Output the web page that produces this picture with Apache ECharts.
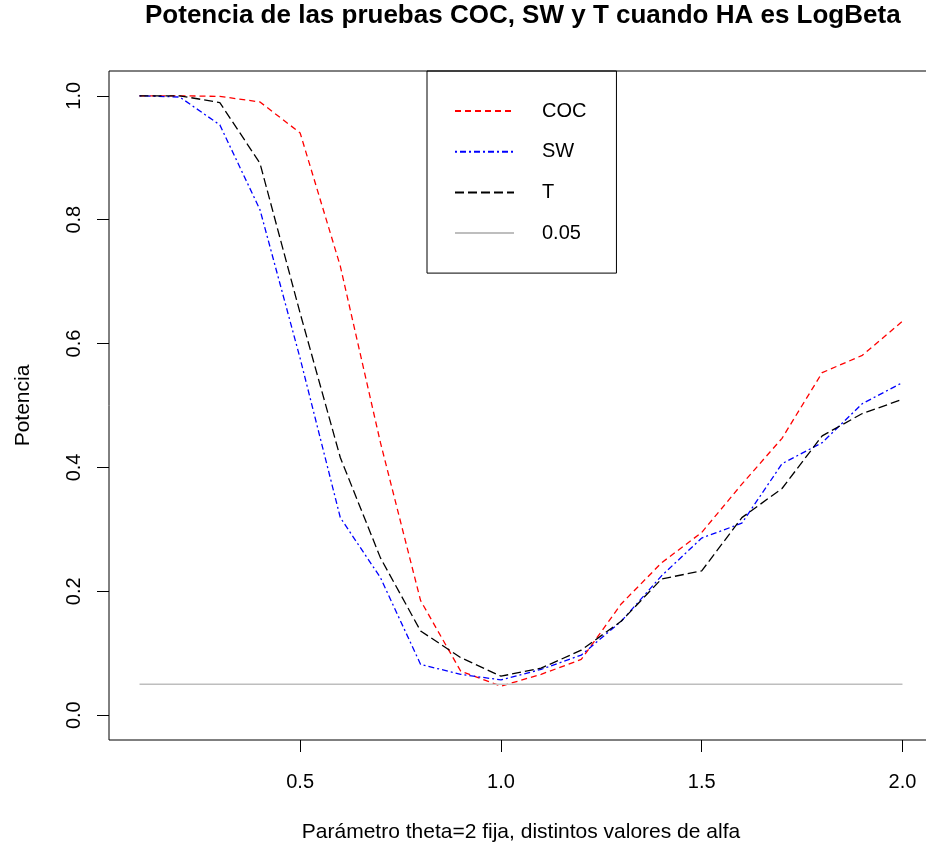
<!DOCTYPE html>
<html>
<head>
<meta charset="utf-8">
<script src="https://cdn.jsdelivr.net/npm/echarts@6/dist/echarts.min.js"></script>
<style>
html,body{margin:0;padding:0;background:#fff;}
#chart{width:926px;height:846px;}
</style>
</head>
<body>
<div id="chart"></div>
<script>
// ---- data ----
const alphaValues = [0.1,0.2,0.3,0.4,0.5,0.6,0.7,0.8,0.9,1.0,1.1,1.2,1.3,1.4,1.5,1.6,1.7,1.8,1.9,2.0];
const cocPower = [1.000,1.000,0.999,0.990,0.940,0.725,0.440,0.185,0.071,0.047,0.066,0.090,0.180,0.246,0.295,0.373,0.447,0.553,0.581,0.636];
const swPower  = [1.000,0.998,0.953,0.816,0.576,0.319,0.222,0.082,0.066,0.057,0.074,0.097,0.152,0.225,0.286,0.310,0.406,0.440,0.503,0.537];
const tPower   = [1.000,1.000,0.989,0.891,0.649,0.416,0.254,0.136,0.093,0.063,0.076,0.105,0.152,0.220,0.233,0.319,0.366,0.451,0.487,0.510];
const refLevel = 0.05;
const seriesNames = ['COC','SW','T','0.05'];
const xTickValues = [0.5,1.0,1.5,2.0];
const yTickValues = [0.0,0.2,0.4,0.6,0.8,1.0];

const pairs = ys => alphaValues.map((x,i)=>[x, ys[i]]);
const FONT = 'Liberation Sans, Arial, sans-serif';

const chart = echarts.init(document.getElementById('chart'), null, {renderer:'canvas'});
chart.setOption({
  animation:false,
  backgroundColor:'#ffffff',
  title:{
    text:'Potencia de las pruebas COC, SW y T cuando HA es LogBeta',
    left:145, top:3, padding:0,
    textStyle:{fontFamily:FONT,fontWeight:'bold',fontSize:26,color:'#000'}
  },
  legend:{
    orient:'vertical', left:427, top:71,
    padding:[30,30,30,27],
    itemWidth:59, itemHeight:20, itemGap:20.7,
    borderColor:'#000', borderWidth:1,
    selectedMode:false,
    itemStyle:{opacity:0},
    data:seriesNames,
    textStyle:{fontFamily:FONT,fontSize:20,color:'#000',padding:[0,0,0,23]}
  },
  grid:{left:109, top:71, width:824, height:669, outerBoundsMode:'none', containLabel:false,
    show:true, borderColor:'#000', borderWidth:1, backgroundColor:'transparent'},
  xAxis:{
    type:'value', min:0.024, max:2.076,
    name:'Parámetro theta=2 fija, distintos valores de alfa',
    nameLocation:'middle', nameGap:82,
    nameTextStyle:{fontFamily:FONT,fontSize:21,color:'#000'},
    axisLine:{show:false,onZero:false},
    splitLine:{show:false},
    axisTick:{show:true,length:12,customValues:xTickValues,lineStyle:{color:'#000',width:1}},
    axisLabel:{customValues:xTickValues,margin:32,fontFamily:FONT,fontSize:20,color:'#000',
      formatter:v=>v.toFixed(1)}
  },
  yAxis:{
    type:'value', min:-0.04, max:1.04,
    name:'Potencia',
    nameLocation:'middle', nameGap:75,
    nameTextStyle:{fontFamily:FONT,fontSize:21,color:'#000'},
    axisLine:{show:false,onZero:false},
    splitLine:{show:false},
    axisTick:{show:true,length:12,customValues:yTickValues,lineStyle:{color:'#000',width:1}},
    axisLabel:{customValues:yTickValues,rotate:90,margin:25,fontFamily:FONT,fontSize:20,color:'#000',
      formatter:v=>v.toFixed(1)}
  },
  series:[
    {name:'COC',type:'line',data:pairs(cocPower),symbol:'none',
      lineStyle:{color:'#ff0000',width:1.3,type:[6,4]},itemStyle:{color:'#ff0000'}},
    {name:'SW',type:'line',data:pairs(swPower),symbol:'none',
      lineStyle:{color:'#0000ff',width:1.3,type:[2,3,6,3]},itemStyle:{color:'#0000ff'}},
    {name:'T',type:'line',data:pairs(tPower),symbol:'none',
      lineStyle:{color:'#000000',width:1.3,type:[9,4]},itemStyle:{color:'#000000'}},
    {name:'0.05',type:'line',data:alphaValues.map(x=>[x,refLevel]),symbol:'none',
      lineStyle:{color:'#bebebe',width:1.3,type:'solid'},itemStyle:{color:'#bebebe'}}
  ]
});
</script>
</body>
</html>
